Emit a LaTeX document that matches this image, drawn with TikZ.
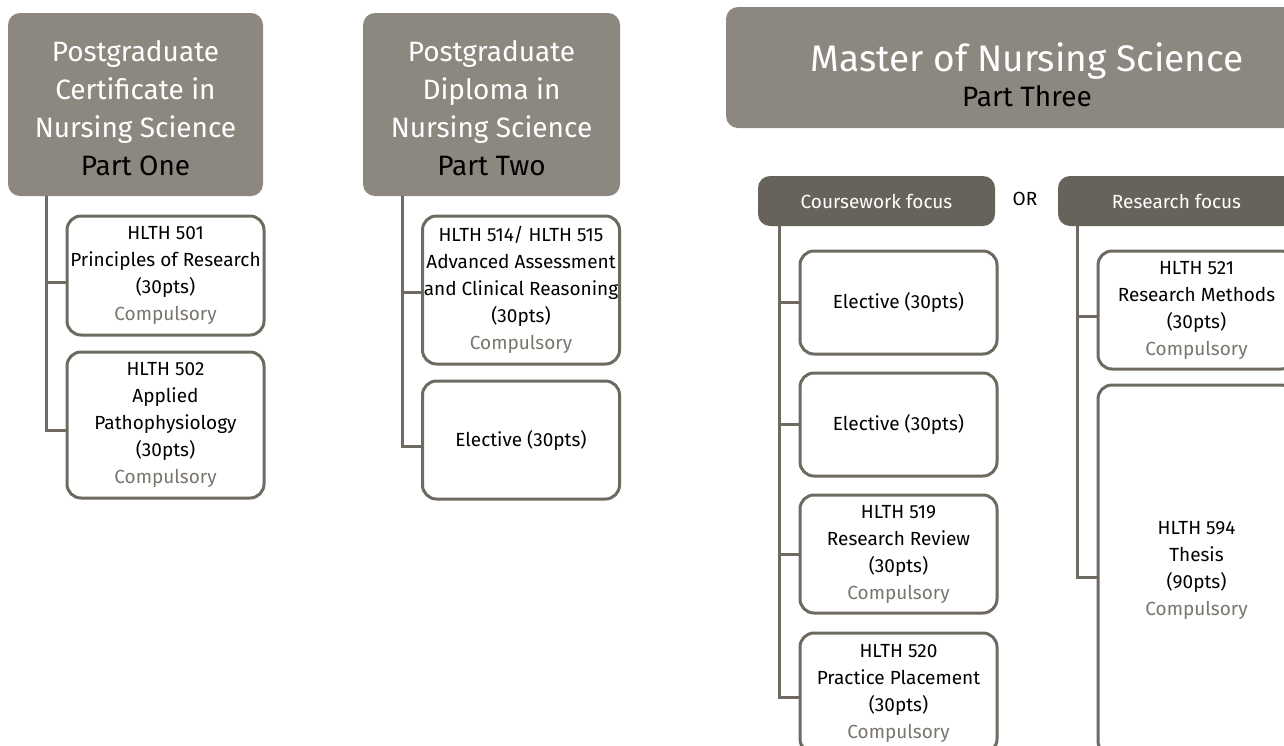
\documentclass[tikz,border=0pt]{standalone}
\usepackage{fontspec}
\setmainfont{Fira Sans}
\usetikzlibrary{positioning}
\definecolor{hdrgrey}{HTML}{8C8880}
\definecolor{focusgrey}{HTML}{67635A}
\definecolor{edgegrey}{HTML}{6E6A61}
\definecolor{compgrey}{HTML}{7A766E}
\newcommand{\compline}{\\\textcolor{compgrey}{Compulsory}}

\begin{document}
\begin{tikzpicture}[x=0.5pt,y=-0.5pt,
    hdr/.style={fill=hdrgrey,rounded corners=6pt,inner sep=0pt},
    hdrtext/.style={text=white,align=center,inner sep=0pt,font=\fontsize{14}{19}\selectfont},
    focus/.style={fill=focusgrey,rounded corners=6pt,text=white,inner sep=0pt,
      minimum width=118.5pt,minimum height=25pt,font=\fontsize{9.5}{12}\selectfont},
    course/.style={draw=edgegrey,line width=1.5pt,rounded corners=7pt,fill=white,
      minimum width=98.5pt,align=center,inner sep=0pt,font=\fontsize{9.5}{13.5}\selectfont},
    link/.style={draw=edgegrey,line width=1.5pt}]
\useasboundingbox (0,0) rectangle (1284,745);
\clip (0,0) rectangle (1284,745);

% part one
\node[hdr,minimum width=127.5pt,minimum height=91.5pt] (hd1) at (135.5,104.5) {};
\node[hdrtext] (hd1t) at ([yshift=-2pt]hd1.center)
  {Postgraduate\\Certificate in\\Nursing Science\\\textcolor{black}{Part One}};
\node[course,minimum height=59.5pt] (c501) at (165.5,275.5)
  {HLTH 501\\Principles of Research\\(30pts)\compline};
\node[course,minimum height=73pt] (c502) at (165.5,425)
  {HLTH 502\\Applied\\Pathophysiology\\(30pts)\compline};
\coordinate (t1) at ([xshift=19.5pt]hd1.south west);
\draw[link] (t1) |- ([yshift=-2.5pt]c502.west);
\draw[link] (t1 |- c501.west) ++(0,7) -- ([yshift=-3.5pt]c501.west);

% part two
\node[hdr,minimum width=128.5pt,minimum height=91.5pt] (hd2) at (491.5,104.5) {};
\node[hdrtext] (hd2t) at ([yshift=-2pt]hd2.center)
  {Postgraduate\\Diploma in\\Nursing Science\\\textcolor{black}{Part Two}};
\node[course,minimum height=74pt] (c514) at (521,290)
  {HLTH 514/ HLTH 515\\Advanced Assessment\\and Clinical Reasoning\\(30pts)\compline};
\node[course,minimum height=59pt] (el1) at (521,440) {Elective (30pts)};
\coordinate (t2) at ([xshift=20pt]hd2.south west);
\draw[link] (t2) |- ([yshift=-3pt]el1.west);
\draw[link] (t2 |- c514.west) ++(0,2) -- ([yshift=-1pt]c514.west);

% part three
\node[hdr,minimum width=301pt,minimum height=60.5pt] (hd3) at (1027,67.5) {};
\node[hdrtext] (hd3t) at ([yshift=-3.5pt]hd3.center)
  {{\fontsize{18.5}{21}\selectfont Master of Nursing Science}\\[-1.5pt]\textcolor{black}{Part Three}};
\node[focus] (cw) at (876.5,201) {Coursework focus};
\node[font=\fontsize{9.5}{12}\selectfont] (or) at (1025,199) {OR};
\node[focus] (rf) at (1176.5,201) {Research focus};

% coursework column
\node[course,minimum height=51.5pt] (el2) at (898.5,302.5) {Elective (30pts)};
\node[course,minimum height=51.5pt] (el3) at (898.5,424.5) {Elective (30pts)};
\node[course,minimum height=59pt] (c519) at (898.5,554)
  {HLTH 519\\Research Review\\(30pts)\compline};
\node[course,minimum height=60pt] (c520) at (898.5,693)
  {HLTH 520\\Practice Placement\\(30pts)\compline};
\coordinate (t3) at ([xshift=11pt]cw.south west);
\draw[link] (t3) |- ([yshift=-2pt]c520.west);
\foreach \c in {el2,el3,c519}
  \draw[link] (t3 |- \c.west) -- (\c.west);

% research column
\node[course,minimum height=59pt] (c521) at (1196.5,310)
  {HLTH 521\\Research Methods\\(30pts)\compline};
\node[course,minimum height=185pt] (c594) at (1196.5,570)
  {HLTH 594\\Thesis\\(90pts)\compline};
\coordinate (t4) at ([xshift=10pt]rf.south west);
\draw[link] (t4) |- ([yshift=-3.5pt]c594.west);
\draw[link] (t4 |- c521.west) ++(0,6) -- ([yshift=-3pt]c521.west);
\end{tikzpicture}
\end{document}
